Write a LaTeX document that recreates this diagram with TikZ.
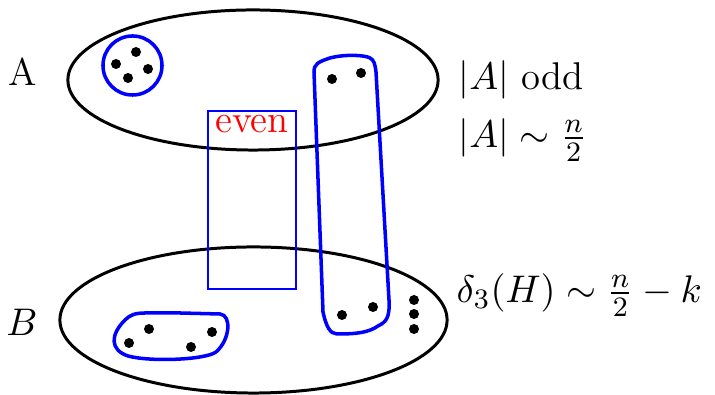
\documentclass[tikz,border=0pt]{standalone}
\usetikzlibrary{positioning}
\begin{document}
\begin{tikzpicture}[x=0.01cm, y=-0.01cm,
    part/.style={line width=0.85pt, black},
    edge/.style={blue, line width=1pt},
    box/.style={draw=blue, line width=0.5pt, inner sep=0pt, minimum width=0.88cm, minimum height=1.78cm},
    vtx/.style={circle, fill=black, inner sep=0pt, minimum size=0.1cm},
    lbl/.style={font=\fontsize{11}{13}\selectfont, inner sep=0pt}
]
    \useasboundingbox (0,0) rectangle (715,395);
    % the two parts
    \draw[part] (253,80) ellipse [x radius=1.85cm, y radius=0.70cm];
    \draw[part] (253.5,320) ellipse [x radius=1.935cm, y radius=0.73cm];
    \node[lbl] (lA) at (23,72) {A};
    \node[lbl] (lB) at (22,322) {$B$};
    % the even box
    \node[box] (evenbox) at (252,200) {};
    \node[lbl, text=red, below=0.045cm of evenbox.north] (even) {even};
    % edges
    \draw[edge] (132.5,65.5) circle [radius=0.295cm];
    \draw[edge] (314,72) .. controls (314,64) and (318,62) .. (330,58)
        .. controls (345,54) and (365,55) .. (370,58) .. controls (374,60) and (375,64) .. (376,72)
        -- (389,300) .. controls (390,318) and (386,322) .. (378,326)
        .. controls (368,333) and (355,334) .. (337,334) .. controls (330,334) and (326,326) .. (323,312)
        -- cycle;
    \draw[edge] (180,313) -- (220,314) .. controls (232,315) and (230,340) .. (216,352)
        .. controls (205,360) and (150,362) .. (128,356) .. controls (110,350) and (110,335) .. (125,320)
        .. controls (130,315) and (135,313) .. (145,313) -- cycle;
    % vertices
    \foreach \x/\y [count=\i] in {136/52, 116/64, 148/69, 128/78, 332/79, 361/73,
        342/315, 373/307, 149/329, 129/343, 191/347, 212/332, 414/300, 414/314, 414/329}
        \node[vtx] (v\i) at (\x,\y) {};
    % conditions
    \node[lbl, anchor=west] (odd) at (458,80) {$|A|$ odd};
    \node[lbl, anchor=west] (half) at (458,140) {$|A|\sim\frac{n}{2}$};
    \node[lbl, anchor=west] (deg) at (456,295) {$\delta_3(H)\sim\frac{n}{2}-k$};
\end{tikzpicture}
\end{document}
